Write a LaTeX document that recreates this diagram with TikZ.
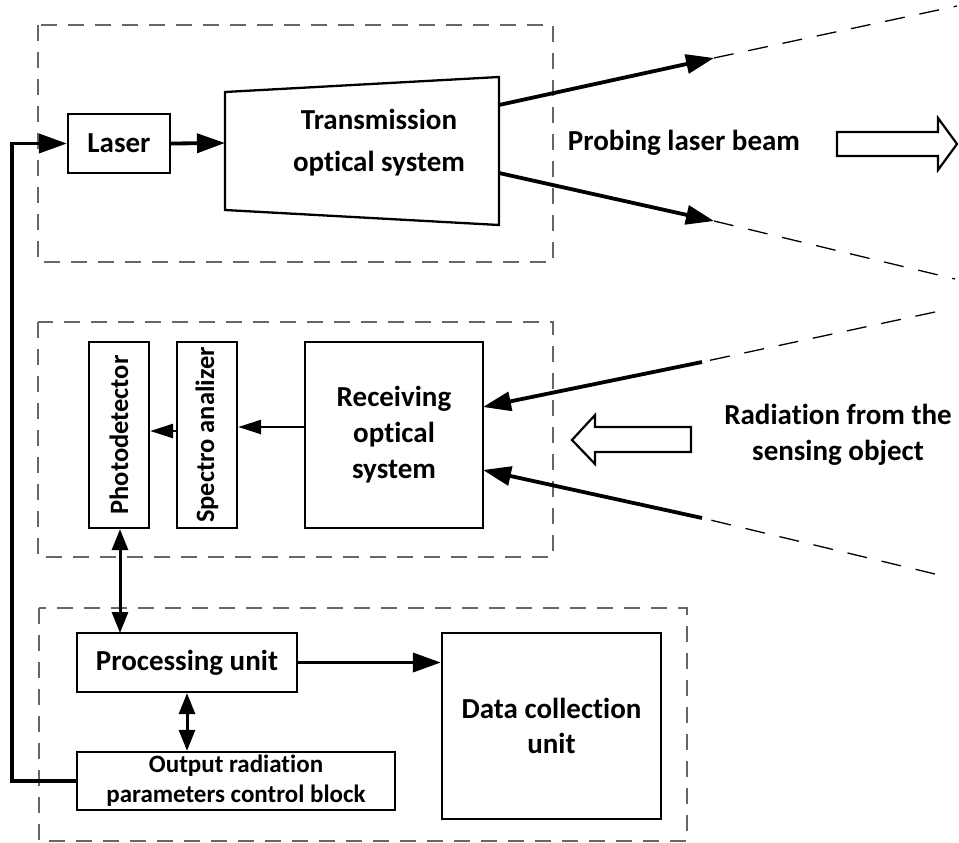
\documentclass[tikz,border=0pt]{standalone}
\usepackage{fontspec}
\setmainfont{Carlito}[Ligatures={NoCommon}]
\usepackage{graphicx}
\usetikzlibrary{arrows.meta}
\begin{document}
\begin{tikzpicture}[x=1pt,y=-1pt,
  blk/.style={draw, line width=2.3pt, fill=white, inner sep=0pt, align=center},
  big/.style={font=\bfseries\fontsize{29}{36}\selectfont},
  small/.style={font=\bfseries\fontsize{25}{30}\selectfont},
  rot/.style={font=\bfseries\fontsize{26.5}{30}\selectfont},
  grp/.style={draw=black!60, line width=1.5pt, dash pattern=on 16pt off 11pt},
  beamdash/.style={draw=black, line width=1.3pt, dash pattern=on 20pt off 15pt},
  conn/.style={line width=3.8pt, -{Triangle[length=28pt,width=19pt]}},
  thinconn/.style={line width=2.6pt, -{Triangle[length=23pt,width=14pt]}},
  dconn/.style={line width=3pt, {Triangle[length=21pt,width=16pt]}-{Triangle[length=21pt,width=16pt]}},
  hollow/.style={draw, line width=2.2pt, fill=white, line join=miter}
]
\useasboundingbox (0,0) rectangle (959,843);

% group boxes
\draw[grp] (38,25) rectangle (553,262);
\draw[grp] (38,322) rectangle (553,557);
\draw[grp] (39,608) rectangle (687,841);

% top group
\node[blk, big, minimum width=102, minimum height=59] (laser) at (119,143.5) {Laser};
\coordinate (tl) at (225,92);
\coordinate (tr) at (499,77);
\coordinate (br) at (499,225);
\coordinate (bl) at (225,210);
\draw[line width=2.3pt, line join=miter] (tl) -- (tr) -- (br) -- (bl) -- cycle;
\node[align=center, font=\bfseries\fontsize{29}{42}\selectfont] (trans) at (379,143) {Transmission\\optical system};
\coordinate (tin) at (225,143);
\draw[conn] (laser.east) -- (tin);

\coordinate (b1) at (499,105);
\coordinate (b2) at (499,173);
\coordinate (u1) at (714,58);
\coordinate (u2) at (957,6);
\coordinate (l1) at (714,221);
\coordinate (l2) at (955,279);
\draw[conn] (b1) -- (u1);
\draw[conn] (b2) -- (l1);
\draw[beamdash] (u1) -- (u2);
\draw[beamdash] (l1) -- (l2);

\node[big] (probe) at (684,143) {Probing laser beam};
\draw[hollow] (837,132) -- (938,132) -- (938,118) -- (957,144) -- (938,170) -- (938,156) -- (837,156) -- cycle;

% middle group
\node[blk, rot, minimum width=60, minimum height=186] (photo) at (119,435) {\rotatebox{90}{Photodetector}};
\node[blk, rot, minimum width=60, minimum height=186] (spec) at (207,435) {\rotatebox{90}{Spectro analizer}};
\node[blk, big, minimum width=178, minimum height=186] (rec) at (394,435) {Receiving\\optical\\system};
\coordinate (ra) at (305,427);
\draw[thinconn] (ra) -- (spec.east |- ra);
\coordinate (pa) at (177,431);
\draw[thinconn] (pa) -- (photo.east |- pa);

\coordinate (iu1) at (935,312);
\coordinate (iu0) at (702,362);
\coordinate (il1) at (935,574);
\coordinate (il0) at (702,518);
\coordinate (iut) at (483,407);
\coordinate (ilt) at (483,470);
\draw[beamdash] (iu1) -- (iu0);
\draw[beamdash] (il1) -- (il0);
\draw[conn] (iu0) -- (iut);
\draw[conn] (il0) -- (ilt);

\draw[hollow] (691,427) -- (595,427) -- (595,415) -- (572,440) -- (595,464) -- (595,452) -- (691,452) -- cycle;
\node[big, align=center] (rad) at (838,435) {Radiation from the\\sensing object};

% bottom group
\node[blk, big, minimum width=220, minimum height=59] (proc) at (187,662.5) {Processing unit};
\node[blk, minimum width=219, minimum height=186, font=\bfseries\fontsize{29}{35}\selectfont] (data) at (551.5,726) {Data collection\\unit};
\node[blk, small, minimum width=318, minimum height=58] (out) at (236,781) {Output radiation\\parameters control block};

\draw[dconn] (photo.south -| 120,0) -- (120,633);
\draw[dconn] (proc.south) -- (proc.south |- out.north);
\draw[conn] (proc.east) -- (data.west |- proc.east);

\coordinate (fbx) at (12,0);
\draw[conn, line join=miter] (out.west) -- (out.west -| fbx) -- (fbx |- laser.west) -- (laser.west);
\end{tikzpicture}
\end{document}
